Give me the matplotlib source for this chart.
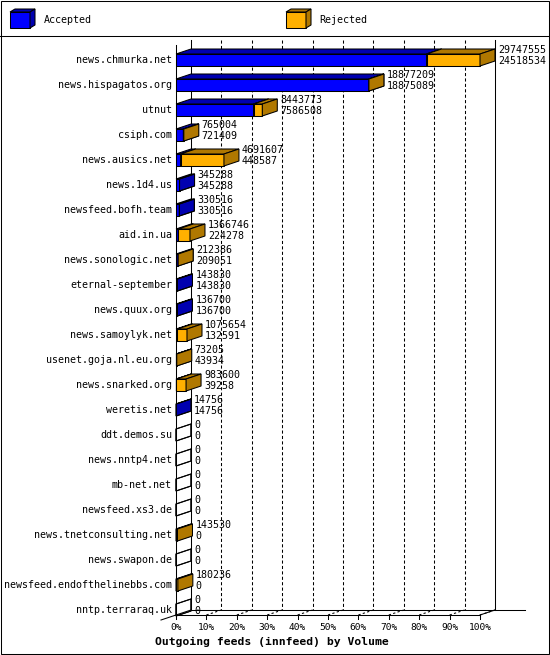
""" Outgoing feeds (innfeed) by volume, 3D stacked horizontal bars. """
import matplotlib
matplotlib.use("Agg")
import matplotlib.pyplot as plt
from matplotlib.patches import Polygon, Rectangle

hosts = [
    "news.chmurka.net", "news.hispagatos.org", "utnut", "csiph.com",
    "news.ausics.net", "news.1d4.us", "newsfeed.bofh.team", "aid.in.ua",
    "news.sonologic.net", "eternal-september", "news.quux.org",
    "news.samoylyk.net", "usenet.goja.nl.eu.org", "news.snarked.org",
    "weretis.net", "ddt.demos.su", "news.nntp4.net", "mb-net.net",
    "newsfeed.xs3.de", "news.tnetconsulting.net", "news.swapon.de",
    "newsfeed.endofthelinebbs.com", "nntp.terraraq.uk",
]
offered = [29747555, 18877209, 8443773, 765004, 4691607, 345288, 330516,
           1366746, 212386, 143830, 136700, 1075654, 73205, 983600, 14756,
           0, 0, 0, 0, 143530, 0, 180236, 0]
accepted = [24518534, 18875089, 7586508, 721409, 448587, 345288, 330516,
            224278, 209051, 143830, 136700, 132591, 43934, 39258, 14756,
            0, 0, 0, 0, 0, 0, 0, 0]
ticks = [0, 10, 20, 30, 40, 50, 60, 70, 80, 90, 100]
tick_labels = [f"{t}%" for t in ticks]
legend_labels = ["Accepted", "Rejected"]
title = "Outgoing feeds (innfeed) by Volume"

BLUE, BLUE_DARK = "#0000ff", "#0000b0"
ORANGE, ORANGE_DARK = "#ffb000", "#b07800"
FONT = "DejaVu Sans Mono"
LW = 0.75

W, H = 550, 655
fig = plt.figure(figsize=(W / 100, H / 100), dpi=100)
fig.patch.set_facecolor("white")

# pixel-space layer for frame, legend and title
bg = fig.add_axes([0, 0, 1, 1])
bg.set_xlim(0, W)
bg.set_ylim(H, 0)
bg.axis("off")
bg.add_patch(Rectangle((0.5, 0.5), W - 1.5, H - 1.5, fill=False, lw=LW, ec="black"))
bg.plot([0, W], [35.5, 35.5], color="black", lw=LW)

def legend_cube(x, y, front, dark):
    bg.add_patch(Polygon([(x, y), (x + 20, y), (x + 20, y + 16), (x, y + 16)],
                         fc=front, ec="black", lw=LW))
    bg.add_patch(Polygon([(x, y), (x + 5, y - 3), (x + 25, y - 3), (x + 20, y)],
                         fc=dark, ec="black", lw=LW))
    bg.add_patch(Polygon([(x + 20, y), (x + 25, y - 3), (x + 25, y + 13), (x + 20, y + 16)],
                         fc=dark, ec="black", lw=LW))

legend_cube(10, 12, BLUE, BLUE_DARK)
bg.text(44, 20, legend_labels[0], family=FONT, fontsize=7.2, va="center")
legend_cube(286, 12, ORANGE, ORANGE_DARK)
bg.text(319, 20, legend_labels[1], family=FONT, fontsize=7.2, va="center")
bg.text(155, 642, title, family=FONT, fontsize=8.2, weight="bold", va="center")

# plot axes: x in percent, y in category index
ax = fig.add_axes([176 / W, 1 - 615 / H, 304 / W, 570 / H])
TOP, FLOOR = -0.6, 22.2
ax.set_xlim(0, 100)
ax.set_ylim(FLOOR, TOP)
ax.axis("off")

PX = 100 / 304          # percent per pixel
PY = 1 / 25             # category per pixel
DX, DY = 15 * PX, -5 * PY
HALF = 6 * PY

# back wall with dashed grid
for t in ticks:
    x = t + DX
    if t in (0, 100):
        ax.plot([x, x], [TOP + DY, FLOOR + DY], color="black", lw=LW, clip_on=False, zorder=1)
    else:
        ax.plot([x, x], [TOP + DY, FLOOR + DY], color="black", lw=LW,
                dashes=(3, 2.2), clip_on=False, zorder=1)
    if t > 0:
        ax.plot([t, t + DX], [FLOOR, FLOOR + DY], color="black", lw=LW,
                dashes=(2.2, 2.2), clip_on=False, zorder=1)
    ax.plot([t, t], [FLOOR, FLOOR + 4 * PY], color="black", lw=LW, clip_on=False, zorder=1)
    ax.text(t, FLOOR + 13 * PY, tick_labels[ticks.index(t)], family=FONT,
            fontsize=6.8, ha="center", va="center")

# floor edges
ax.plot([0, 100], [FLOOR, FLOOR], color="black", lw=LW, clip_on=False, zorder=1)
ax.plot([DX, 349 * PX], [FLOOR + DY, FLOOR + DY], color="black", lw=LW, clip_on=False, zorder=1)
ax.plot([-DX, DX], [FLOOR - DY, FLOOR + DY], color="black", lw=LW, clip_on=False, zorder=1)
ax.plot([100, 100 + DX], [FLOOR, FLOOR + DY], color="black", lw=LW, clip_on=False, zorder=1)


def box(x0, x1, i, front, dark, z):
    top, bot = i - HALF, i + HALF
    side = [(x1, top), (x1 + DX, top + DY), (x1 + DX, bot + DY), (x1, bot)]
    if x1 <= x0:
        ax.add_patch(Polygon(side, fill=False, ec="black", lw=LW, clip_on=False, zorder=z))
        return
    ax.add_patch(Polygon([(x0, bot), (x1, bot), (x1, top), (x0, top)],
                         fc=front, ec="black", lw=LW, clip_on=False, zorder=z))
    ax.add_patch(Polygon([(x0, top), (x1, top), (x1 + DX, top + DY), (x0 + DX, top + DY)],
                         fc=dark, ec="black", lw=LW, clip_on=False, zorder=z))
    ax.add_patch(Polygon(side, fc=dark, ec="black", lw=LW, clip_on=False, zorder=z))


vmax = max(offered)
z = 2
for i, host in enumerate(hosts):
    a = accepted[i] / vmax * 100
    t = offered[i] / vmax * 100
    box(0, a, i, BLUE, BLUE_DARK, z)
    box(a, t, i, ORANGE, ORANGE_DARK, z + 1)
    z += 2
    ax.text(-4 * PX, i, host, family=FONT, fontsize=7.2, ha="right", va="center")
    lx = t + DX + 3 * PX
    ax.text(lx, i - 10 * PY, str(offered[i]), family=FONT, fontsize=7.2,
            va="center", clip_on=False, zorder=100)
    ax.text(lx, i + 1 * PY, str(accepted[i]), family=FONT, fontsize=7.2,
            va="center", clip_on=False, zorder=100)

# front left edge
ax.plot([0, 0], [TOP, FLOOR], color="black", lw=LW, clip_on=False, zorder=99)

fig.savefig("out.png", dpi=100)
